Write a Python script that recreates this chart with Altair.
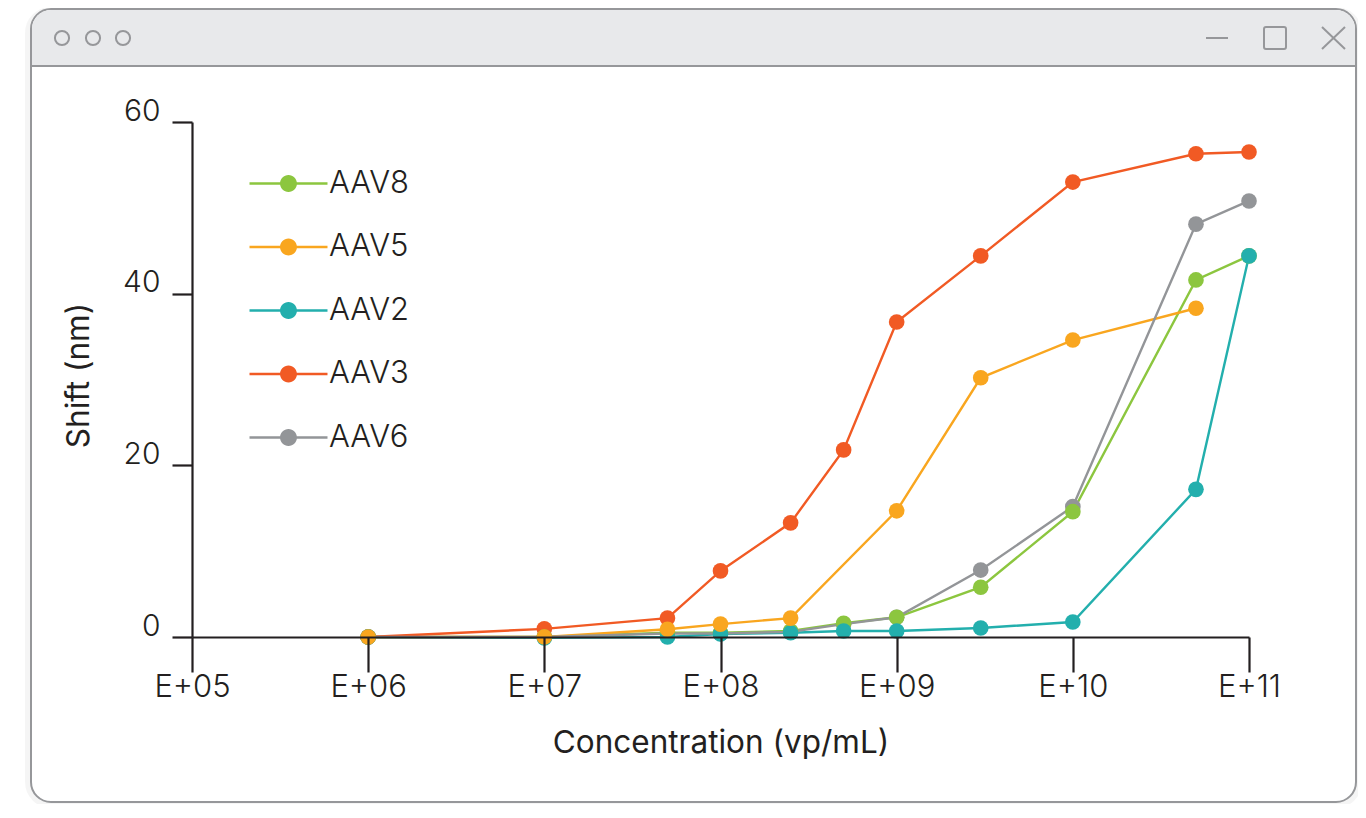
import json
import altair as alt
import pandas as pd

# ---------------- data ----------------
concentration = [1e6, 1e7, 5e7, 1e8, 2.5e8, 5e8, 1e9, 3e9, 1e10, 5e10, 1e11]

aav8 = [0.0, 0.0, 0.5, 0.5, 0.7, 1.6, 2.3, 5.8, 14.6, 41.6, 44.4]
aav5 = [0.0, 0.0, 0.9, 1.5, 2.2, None, 14.7, 30.2, 34.6, 38.3, None]
aav2 = [0.0, -0.1, 0.0, 0.35, 0.5, 0.7, 0.7, 1.05, 1.75, 17.2, 44.4]
aav3 = [0.0, 0.95, 2.2, 7.7, 13.3, 21.8, 36.7, 44.4, 53.0, 56.3, 56.5]
aav6 = [0.0, 0.0, 0.4, 0.4, 0.6, 1.5, 2.3, 7.8, 15.2, 48.1, 50.8]

series_names = ["AAV8", "AAV5", "AAV2", "AAV3", "AAV6"]
series_values = [aav8, aav5, aav2, aav3, aav6]
series_colors = ["#8cc63f", "#f9a61f", "#23afad", "#f15a24", "#939598"]
draw_order = ["AAV6", "AAV3", "AAV8", "AAV2", "AAV5"]

x_tick_values = [1e5, 1e6, 1e7, 1e8, 1e9, 1e10, 1e11]
x_tick_labels = ["E+05", "E+06", "E+07", "E+08", "E+09", "E+10", "E+11"]
y_tick_values = [0, 20, 40, 60]

rows = []
for name, vals in zip(series_names, series_values):
    for c, v in zip(concentration, vals):
        if v is not None:
            rows.append({"conc": c, "shift": v, "series": name,
                         "order": draw_order.index(name)})
df = pd.DataFrame(rows)

FONT = "Inter"
INK = "#231f20"
FRAME = "#96979a"

label_expr = json.dumps(x_tick_labels) + "[round(log(datum.value)/LN10) - 5]"

x_enc = alt.X(
    "conc:Q",
    scale=alt.Scale(type="log", domain=[1e5, 1e11], nice=False),
    axis=alt.Axis(
        values=x_tick_values,
        labelExpr=label_expr,
        title="Concentration (vp/mL)",
        zindex=1,
        tickSize=35,
        tickWidth=2.2,
        tickColor=INK,
        domainColor=INK,
        domainWidth=2.2,
        grid=False,
        labelFont=FONT,
        labelFontSize=31,
        labelFontWeight=300,
        labelColor=INK,
        labelPadding=0,
        labelFlush=False,
        labelOverlap=False,
        titleFont=FONT,
        titleFontSize=31.5,
        titleFontWeight=400,
        titleColor=INK,
        titleX=528.5,
        titleY=106,
        titleBaseline="middle",
        titleAlign="center",
    ),
)
y_enc = alt.Y(
    "shift:Q",
    scale=alt.Scale(domain=[0, 60], nice=False, zero=False),
    axis=alt.Axis(
        values=y_tick_values,
        title="Shift (nm)",
        zindex=1,
        tickSize=20,
        tickWidth=2.2,
        tickColor=INK,
        domainColor=INK,
        domainWidth=2.2,
        grid=False,
        labelFont=FONT,
        labelFontSize=30,
        labelFontWeight=300,
        labelColor=INK,
        labelBaseline="alphabetic",
        labelOffset=-2,
        labelPadding=12,
        labelFlush=False,
        titleFont=FONT,
        titleFontSize=31.5,
        titleFontWeight=400,
        titleColor=INK,
        titleX=-113,
        titleY=253,
        titleBaseline="middle",
        titleAlign="center",
        titleAngle=270,
    ),
)

# legend symbol: a line with a dot in the middle (filled shapes)
legend_symbol = (
    "M-2.4,-0.07 H2.4 V0.07 H-2.4 Z "
    "M0.52,0 A0.52,0.52 0 1 1 -0.52,0 A0.52,0.52 0 1 1 0.52,0 Z"
)

color_enc = alt.Color(
    "series:N",
    scale=alt.Scale(domain=series_names, range=series_colors),
    legend=alt.Legend(
        title=None,
        orient="none",
        legendX=80,
        legendY=45,
        symbolType=legend_symbol,
        symbolSize=1056,
        symbolStrokeWidth=0,
        symbolOpacity=1,
        labelOffset=24,
        rowPadding=31.5,
        padding=0,
        labelFont=FONT,
        labelFontSize=31,
        labelFontWeight=300,
        labelColor=INK,
    ),
)

base = alt.Chart(df).encode(x=x_enc, y=y_enc, color=color_enc,
                            order=alt.Order("order:Q"))

points = base.mark_circle(size=245, opacity=1)
lines = base.mark_line(strokeWidth=2.4)

# ---------------- window frame decoration ----------------
one = pd.DataFrame({"k": [0]})
deco = alt.Chart(one)

shadow = deco.mark_rect(
    fill=None, fillOpacity=0, stroke="#000000", strokeOpacity=0.04, strokeWidth=8,
    cornerRadius=22
).encode(x=alt.value(-163), x2=alt.value(1166), y=alt.value(-111), y2=alt.value(682))

frame = deco.mark_rect(
    fill="white", stroke=FRAME, strokeWidth=2, cornerRadius=20
).encode(x=alt.value(-161), x2=alt.value(1164), y=alt.value(-113), y2=alt.value(680))

titlebar = deco.mark_rect(
    fill="#e8e9eb", cornerRadiusTopLeft=19, cornerRadiusTopRight=19
).encode(x=alt.value(-160), x2=alt.value(1163), y=alt.value(-112), y2=alt.value(-56))

titlebar_line = deco.mark_rule(stroke=FRAME, strokeWidth=2).encode(
    x=alt.value(-161), x2=alt.value(1164), y=alt.value(-56))

def dot(px):
    return deco.mark_point(shape="circle", size=200, filled=False,
                           stroke=FRAME, strokeWidth=2, opacity=1).encode(
        x=alt.value(px), y=alt.value(-84))

minimize = deco.mark_rule(stroke=FRAME, strokeWidth=2).encode(
    x=alt.value(1014), x2=alt.value(1036), y=alt.value(-84))
maximize = deco.mark_rect(fill=None, fillOpacity=0, stroke=FRAME, strokeWidth=2,
                          cornerRadius=2).encode(
    x=alt.value(1072), x2=alt.value(1094), y=alt.value(-95), y2=alt.value(-73))
close1 = deco.mark_rule(stroke=FRAME, strokeWidth=2).encode(
    x=alt.value(1130), x2=alt.value(1153), y=alt.value(-95), y2=alt.value(-73))
close2 = deco.mark_rule(stroke=FRAME, strokeWidth=2).encode(
    x=alt.value(1130), x2=alt.value(1153), y=alt.value(-73), y2=alt.value(-95))

chart = alt.layer(
    shadow, frame, titlebar, titlebar_line, dot(-130), dot(-99), dot(-69),
    minimize, maximize, close1, close2,
    lines, points,
).properties(
    width=1057,
    height=515,
    autosize=alt.AutoSizeParams(type="none"),
    padding={"left": 184, "top": 114, "right": 109, "bottom": 167},
    background="white",
).configure_view(stroke=None)

chart.save("out.html", embed_options={"renderer": "svg", "actions": False})
